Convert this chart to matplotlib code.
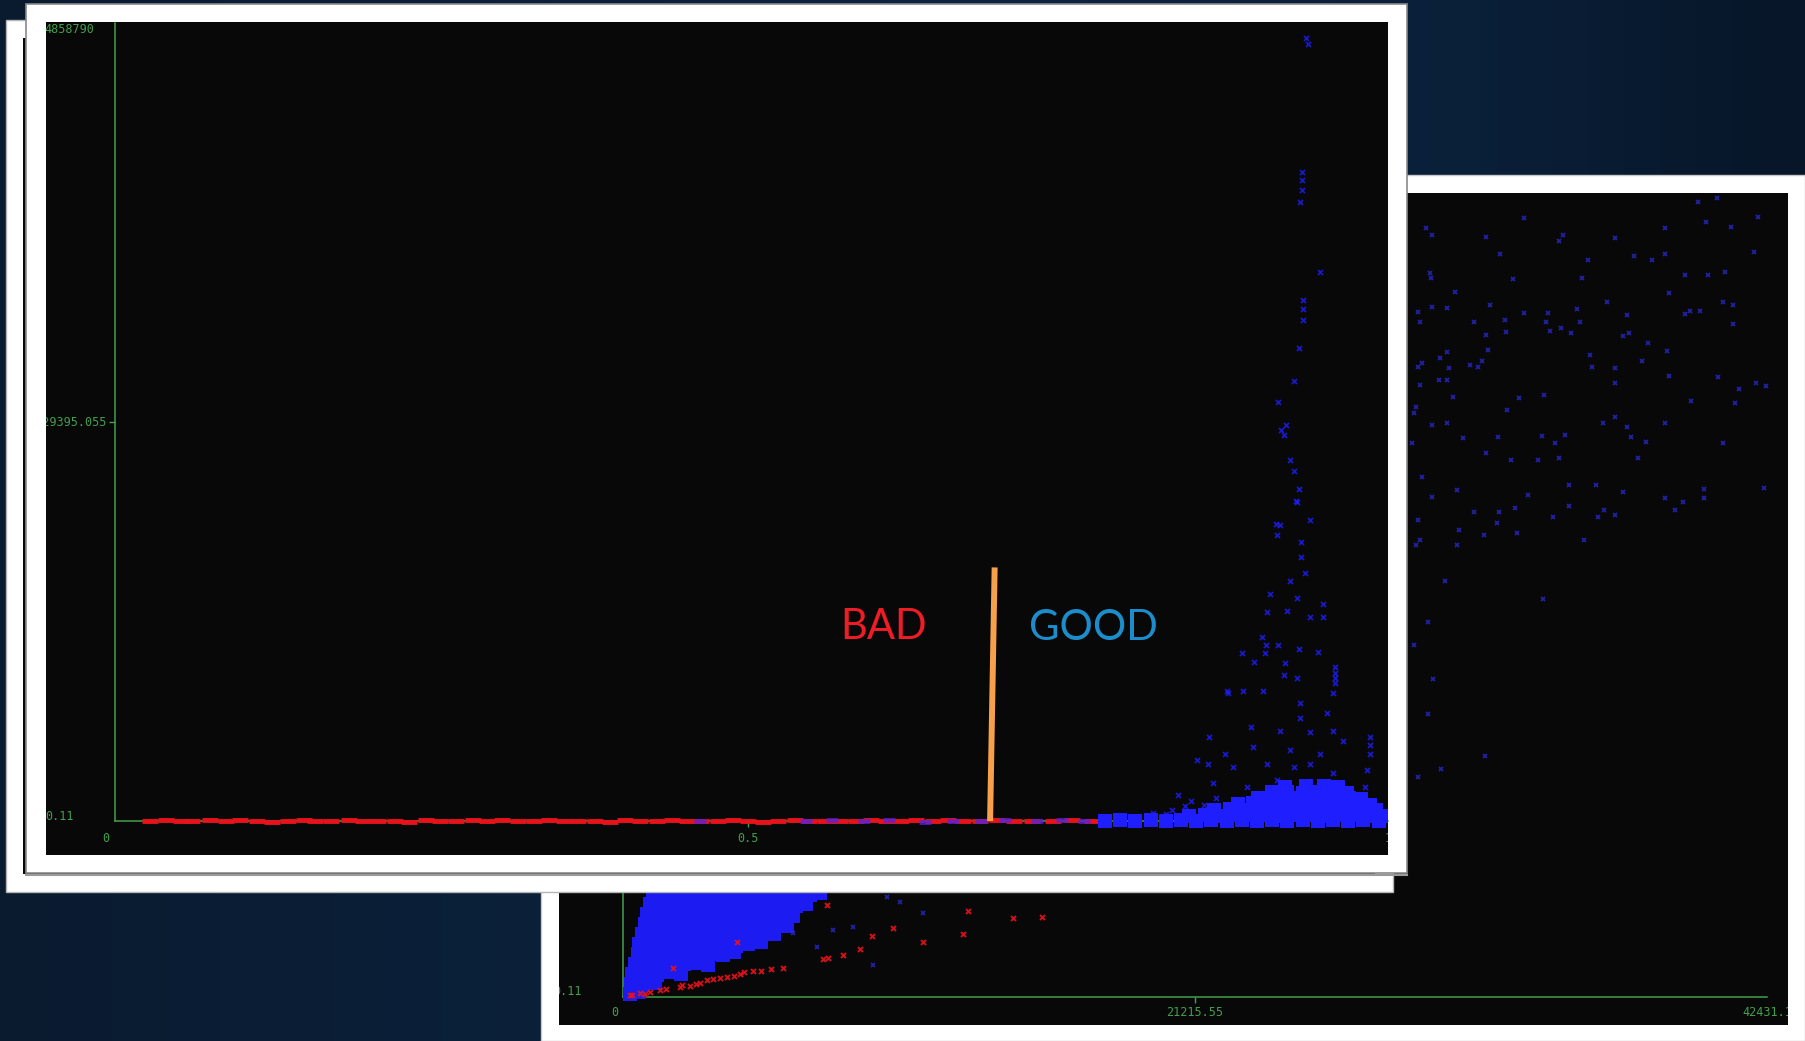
import numpy as np
import matplotlib
matplotlib.use("Agg")
import matplotlib.pyplot as plt
from matplotlib.patches import Rectangle

W, H = 1805, 1041
GREEN = "#41a04c"
PANEL = "#080808"
RED = "#e8121a"
BLUE = "#1e1eff"
DIM_BLUE = "#2a2ad8"

# ---------------- front screenshot: score (0..1) vs target ----------------
front_xticks = [0.0, 0.5, 1.0]
front_xlabels = ["0", "0.5", "1"]
front_ymin, front_ymid, front_ymax = 0.11, 2429395.055, 4858790.0
front_ylabels = ["0.11", "2429395.055", "4858790"]

# red strip along the baseline: (score, target in thousands)
red_base = [
    (0.028, 0), (0.040, 5), (0.052, -3), (0.061, 2), (0.075, 6), (0.088, -2), (0.099, 4), (0.112, 0),
    (0.124, -4), (0.137, 3), (0.149, 6), (0.158, -1), (0.171, 2), (0.185, 4), (0.196, -3), (0.208, 0),
    (0.221, 3), (0.232, -4), (0.246, 5), (0.257, 1), (0.269, -2), (0.283, 4), (0.294, 0), (0.306, 6),
    (0.318, -3), (0.331, 2), (0.343, 5), (0.355, -1), (0.366, 3), (0.379, 0), (0.391, -4), (0.403, 4),
    (0.415, 2), (0.428, -2), (0.440, 6), (0.452, 0), (0.463, 3), (0.476, -3), (0.488, 5), (0.500, 1),
    (0.512, -4), (0.524, 2), (0.537, 5), (0.548, -1), (0.561, 3), (0.573, 0), (0.585, -3), (0.597, 4),
    (0.609, 2), (0.621, -2), (0.633, 6), (0.646, 1), (0.658, 4), (0.670, -3), (0.683, 2), (0.697, 5),
    (0.710, -2), (0.724, 3), (0.741, 0), (0.756, 4), (0.772, -2),
]
# blue points mixed into the red strip (thousands)
blue_mix = [(0.462, 2), (0.546, -3), (0.566, 5), (0.592, 0), (0.611, 6), (0.640, -4),
            (0.662, 3), (0.684, -2), (0.703, 5), (0.728, 0), (0.748, 4), (0.765, -3)]
# blue baseline and dense mass near score ~0.9-1.0 (target in millions)
blue_mass = [
    (0.782, 0.0), (0.794, 0.005), (0.806, 0.0), (0.818, 0.008), (0.830, 0.0), (0.842, 0.006),
    (0.854, 0.0), (0.866, 0.004), (0.878, 0.0), (0.890, 0.006), (0.902, 0.0), (0.914, 0.005),
    (0.926, 0.0), (0.938, 0.004), (0.950, 0.0), (0.962, 0.006), (0.974, 0.0), (0.986, 0.005), (0.998, 0.0),
    (0.848, 0.033), (0.861, 0.037), (0.872, 0.032), (0.885, 0.036), (0.896, 0.034), (0.909, 0.038),
    (0.920, 0.033), (0.933, 0.036), (0.944, 0.035), (0.957, 0.032), (0.968, 0.037), (0.980, 0.034),
    (0.992, 0.033), (1.000, 0.030),
    (0.868, 0.068), (0.881, 0.072), (0.892, 0.069), (0.905, 0.071), (0.916, 0.07), (0.929, 0.073),
    (0.940, 0.068), (0.953, 0.071), (0.964, 0.07), (0.977, 0.072), (0.988, 0.068), (0.996, 0.066),
    (0.887, 0.104), (0.899, 0.107), (0.911, 0.103), (0.924, 0.106), (0.935, 0.105), (0.947, 0.108),
    (0.959, 0.104), (0.971, 0.106), (0.983, 0.103), (0.991, 0.1),
    (0.903, 0.14), (0.916, 0.142), (0.927, 0.138), (0.939, 0.141), (0.951, 0.14), (0.963, 0.143),
    (0.975, 0.139), (0.984, 0.136),
    (0.914, 0.175), (0.926, 0.178), (0.938, 0.173), (0.950, 0.176), (0.962, 0.18), (0.973, 0.172),
    (0.924, 0.21), (0.941, 0.215), (0.955, 0.212), (0.966, 0.208),
]
# scattered blue points (target in millions)
blue_sparse = [
    (0.941, 4.77), (0.942, 4.73),
    (0.9377, 3.95), (0.9377, 3.90), (0.9377, 3.84), (0.936, 3.77),
    (0.952, 3.34), (0.9387, 3.17), (0.9387, 3.12), (0.9387, 3.05),
    (0.931, 2.68), (0.935, 2.88),
    (0.919, 2.55), (0.925, 2.41), (0.923, 2.35), (0.921, 2.38),
    (0.928, 2.20), (0.931, 2.13), (0.935, 2.02), (0.933, 1.95), (0.917, 1.81), (0.937, 1.70),
    (0.934, 1.94), (0.920, 1.80), (0.918, 1.74), (0.944, 1.83), (0.937, 1.61), (0.928, 1.46),
    (0.940, 1.51), (0.912, 1.38), (0.934, 1.36), (0.954, 1.32), (0.910, 1.27), (0.926, 1.28),
    (0.944, 1.24), (0.954, 1.24), (0.906, 1.12), (0.919, 1.07), (0.935, 1.05), (0.950, 1.03),
    (0.890, 1.02), (0.908, 1.02), (0.924, 0.96), (0.964, 0.94), (0.964, 0.90), (0.964, 0.87),
    (0.964, 0.84), (0.962, 0.78), (0.923, 0.89), (0.934, 0.87), (0.879, 0.78), (0.907, 0.79),
    (0.936, 0.72), (0.957, 0.66), (0.936, 0.63), (0.897, 0.57), (0.920, 0.55), (0.944, 0.54),
    (0.962, 0.55), (0.970, 0.49), (0.899, 0.45), (0.928, 0.43), (0.952, 0.41), (0.877, 0.41),
    (0.991, 0.51), (0.991, 0.46), (0.991, 0.41), (0.989, 0.31), (0.987, 0.21), (0.863, 0.35),
    (0.883, 0.33), (0.910, 0.35), (0.931, 0.33), (0.944, 0.35), (0.962, 0.29), (0.867, 0.23),
    (0.894, 0.21), (0.918, 0.25), (0.968, 0.21), (0.928, 0.21), (0.949, 0.19),
    (0.909, 1.07), (0.900, 0.97), (0.891, 0.79), (0.878, 0.79), (0.855, 0.37), (0.864, 0.51),
    (0.820, 0.05), (0.835, 0.07), (0.845, 0.09), (0.850, 0.12), (0.830, 0.04), (0.840, 0.16),
    (0.870, 0.14), (0.860, 0.10),
]
split_x = [0.6948, 0.6912]          # orange BAD / GOOD divider
split_y = [1.544e6, 0.0]
bad_pos = (0.607, 1.18e6)
good_pos = (0.773, 1.175e6)

# ---------------- back screenshot: feature (0..42431) vs target ----------------
back_xmax = 42431.1
back_xmid = 21215.55
back_xlabels = ["0", "21215.55", "42431.1"]
# dense blue wedge near the origin (x in thousands, target in millions)
back_blob = [
    (0.25, 0.02), (0.6, 0.03),
    (0.3, 0.08), (0.75, 0.075), (1.2, 0.085),
    (0.35, 0.14), (0.8, 0.145), (1.25, 0.135), (1.7, 0.15), (2.15, 0.14),
    (0.45, 0.20), (0.9, 0.205), (1.35, 0.195), (1.8, 0.21), (2.25, 0.2), (2.7, 0.205), (3.15, 0.195),
    (0.55, 0.26), (1.0, 0.255), (1.45, 0.265), (1.9, 0.26), (2.35, 0.25), (2.8, 0.265), (3.25, 0.26),
    (3.7, 0.255), (4.1, 0.27),
    (0.6, 0.32), (1.05, 0.325), (1.5, 0.315), (1.95, 0.32), (2.4, 0.33), (2.85, 0.315), (3.3, 0.32),
    (3.75, 0.325), (4.2, 0.31), (4.65, 0.32), (5.1, 0.33),
    (0.7, 0.38), (1.15, 0.385), (1.6, 0.375), (2.05, 0.38), (2.5, 0.39), (2.95, 0.375), (3.4, 0.38),
    (3.85, 0.385), (4.3, 0.375), (4.75, 0.38), (5.2, 0.39), (5.6, 0.38),
    (0.8, 0.44), (1.25, 0.445), (1.7, 0.435), (2.15, 0.44), (2.6, 0.45), (3.05, 0.435), (3.5, 0.44),
    (3.95, 0.445), (4.4, 0.435), (4.85, 0.44), (5.3, 0.45), (5.75, 0.44), (6.1, 0.43),
    (0.9, 0.50), (1.35, 0.505), (1.8, 0.495), (2.25, 0.5), (2.7, 0.51), (3.15, 0.495), (3.6, 0.5),
    (4.05, 0.505), (4.5, 0.495), (4.95, 0.5), (5.4, 0.51), (5.85, 0.5), (6.3, 0.49),
    (1.0, 0.56), (1.45, 0.565), (1.9, 0.555), (2.35, 0.56), (2.8, 0.57), (3.25, 0.555), (3.7, 0.56),
    (4.15, 0.565), (4.6, 0.555), (5.05, 0.56), (5.5, 0.57), (5.95, 0.56), (6.4, 0.55), (6.8, 0.56),
    (1.1, 0.62), (1.55, 0.625), (2.0, 0.615), (2.45, 0.62), (2.9, 0.63), (3.35, 0.615), (3.8, 0.62),
    (4.25, 0.625), (4.7, 0.615), (5.15, 0.62), (5.6, 0.63), (6.05, 0.62), (6.5, 0.61), (6.95, 0.62),
    (7.3, 0.63),
]
back_blue = [
    (7.79, 0.405), (8.53, 0.424), (9.27, 0.194), (10.27, 0.575), (11.13, 0.508), (7.19, 0.303),
    (9.79, 0.605), (6.3, 0.387),
    (29.78, 4.651), (30.02, 4.611), (32.02, 4.597), (33.40, 4.712), (34.86, 4.611), (34.71, 4.576),
    (36.79, 4.590), (32.51, 4.496), (33.02, 4.342), (35.79, 4.459), (37.48, 4.484), (38.17, 4.459),
    (38.63, 4.496), (41.94, 4.510), (41.10, 4.661), (42.10, 4.722), (40.17, 4.691), (39.86, 4.812),
    (40.56, 4.833), (38.63, 4.651), (29.94, 4.379), (29.98, 4.348), (30.86, 4.268), (35.56, 4.348),
    (39.40, 4.369), (40.25, 4.369), (40.87, 4.389), (38.79, 4.262), (36.48, 4.207), (29.48, 4.147),
    (29.55, 4.086), (30.02, 4.177), (30.55, 4.167), (31.55, 4.086), (32.17, 4.187), (32.71, 4.096),
    (32.75, 4.026), (33.40, 4.141), (34.32, 4.141), (34.25, 4.086), (34.40, 4.032), (34.79, 4.046),
    (35.17, 4.016), (35.40, 4.161), (35.48, 4.086), (37.09, 4.000), (37.33, 4.020), (37.25, 4.127),
    (38.02, 3.959), (39.40, 4.133), (39.56, 4.153), (39.94, 4.153), (40.79, 4.207), (41.17, 4.187),
    (41.17, 4.072), (29.48, 3.814), (29.63, 3.834), (30.32, 3.864), (30.55, 3.905), (30.63, 3.804),
    (31.40, 3.824), (31.71, 3.814), (31.86, 3.850), (32.09, 3.915), (32.02, 4.006), (35.86, 3.885),
    (35.94, 3.814), (36.79, 3.804), (36.79, 3.713), (37.79, 3.850), (38.71, 3.911), (38.79, 3.758),
    (40.63, 3.749), (41.40, 3.677), (42.02, 3.717), (42.40, 3.697), (29.55, 3.703), (30.25, 3.733),
    (30.55, 3.733), (30.78, 3.632), (33.25, 3.622), (34.17, 3.643), (34.94, 3.401), (34.56, 3.350),
    (34.09, 3.395), (32.79, 3.552), (32.45, 3.391), (32.02, 3.290), (31.17, 3.380), (30.55, 3.471),
    (30.02, 3.461), (29.25, 3.350), (29.40, 3.572), (29.32, 3.532), (36.33, 3.471), (36.79, 3.511),
    (37.25, 3.451), (37.40, 3.386), (37.94, 3.360), (37.63, 3.259), (38.63, 3.475), (39.63, 3.608),
    (41.25, 3.596), (40.79, 3.350), (42.33, 3.078), (29.63, 3.148), (30.02, 3.027), (30.94, 3.068),
    (31.55, 2.937), (31.94, 2.795), (32.40, 2.866), (32.48, 2.937), (33.09, 2.957), (33.17, 2.806),
    (33.55, 3.037), (34.48, 2.906), (35.09, 3.098), (35.09, 2.971), (36.09, 3.098), (36.40, 2.947),
    (36.17, 2.906), (36.79, 2.916), (37.09, 3.058), (38.63, 3.017), (39.33, 2.997), (39.02, 2.947),
    (40.10, 3.017), (35.63, 2.765), (31.02, 2.826), (30.94, 2.735), (29.55, 2.765), (29.48, 2.886),
    (29.40, 2.735), (32.94, 3.249), (33.94, 3.249), (34.71, 3.259),
    (31.97, 1.456), (30.35, 1.380), (29.50, 1.331), (29.84, 1.714), (30.05, 1.923), (29.33, 2.132),
    (30.48, 2.515), (29.84, 2.271), (34.11, 2.411), (40.09, 3.072),
]
back_red = [
    (7.57, 0.557), (12.80, 0.520), (14.47, 0.478), (10.01, 0.417), (9.24, 0.369), (12.61, 0.381),
    (11.13, 0.333), (8.79, 0.290), (8.16, 0.254), (7.60, 0.236), (7.42, 0.230), (5.93, 0.175),
    (4.23, 0.333), (4.82, 0.157), (4.34, 0.139), (3.86, 0.121), (3.34, 0.109), (2.86, 0.085),
    (2.49, 0.067), (2.11, 0.061), (1.85, 0.175), (1.37, 0.042), (0.63, 0.024), (0.26, 0.012),
    (15.54, 0.484), (0.35, 0.01), (0.8, 0.02), (1.0, 0.03), (1.6, 0.05), (2.2, 0.07), (2.7, 0.08),
    (3.1, 0.10), (3.6, 0.115), (4.1, 0.13), (4.5, 0.15), (5.1, 0.16), (5.5, 0.17),
]


def put_axes(x0, y0, x1, y1, z):
    # pixel box (top-left origin) -> figure fraction
    return fig.add_axes([x0 / W, 1 - y1 / H, (x1 - x0) / W, (y1 - y0) / H], zorder=z)


def style_axes(ax, xmax_spine, ymax, xticks, yticks):
    ax.set_facecolor(PANEL)
    for side in ("top", "right"):
        ax.spines[side].set_visible(False)
    ax.spines["left"].set_position(("data", 0.0))
    ax.spines["bottom"].set_position(("data", front_ymin))
    ax.spines["left"].set_bounds(front_ymin, ymax)
    ax.spines["bottom"].set_bounds(0.0, xmax_spine)
    for side in ("left", "bottom"):
        ax.spines[side].set_color(GREEN)
        ax.spines[side].set_linewidth(1.1)
    ax.set_xticks(xticks)
    ax.set_yticks(yticks)
    ax.tick_params(colors=GREEN, length=4, width=1, labelbottom=False, labelleft=False)


def unzip(pts, scale):
    return [p[0] for p in pts], [p[1] * scale for p in pts]


fig = plt.figure(figsize=(W / 100, H / 100), dpi=100)

# slide background
ax_bg = fig.add_axes([0, 0, 1, 1], zorder=0)
pos = np.linspace(0, 1, 400)
stops = [0.0, 0.55, 0.82, 1.0]
rgb = np.array([[10, 27, 48], [12, 36, 66], [10, 31, 56], [7, 22, 40]]) / 255
row = np.stack([np.interp(pos, stops, rgb[:, c]) for c in range(3)], axis=-1)
ax_bg.imshow(np.repeat(row[None, :, :], 10, axis=0), extent=[0, W, H, 0], aspect="auto")
ax_bg.set_xlim(0, W)
ax_bg.set_ylim(H, 0)
ax_bg.axis("off")
ax_bg.add_patch(Rectangle((541, 175), 1264, 866, fc="white", ec="#c9c9c9", lw=1))

# back screenshot plot
axr = put_axes(559, 193, 1788, 1025, 1)
axr.set_xlim(-2374, 43210)
axr.set_ylim(-169400, 4864800)
style_axes(axr, back_xmax, front_ymax, [back_xmid], [])
bx, by = unzip(back_blob, 1e6)
axr.plot([v * 1e3 for v in bx], by, ls="none", marker="s", ms=9.5, mew=0, color="#1c1cf2",
         zorder=3)
bx, by = unzip(back_blue, 1e6)
axr.plot([v * 1e3 for v in bx], by, ls="none", marker="x", ms=3.4, mew=1.3, color=DIM_BLUE,
         alpha=0.75, zorder=3)
bx, by = unzip(back_red, 1e6)
axr.plot([v * 1e3 for v in bx], by, ls="none", marker="x", ms=3.6, mew=1.4, color=RED,
         alpha=0.9, zorder=4)
for xv, lab in zip([-300, back_xmid, back_xmax], back_xlabels):
    axr.text(xv, -90800, lab, color=GREEN, fontsize=8.5, family="DejaVu Sans Mono",
             ha="center", va="center", clip_on=True)
axr.text(-2596, 30300, front_ylabels[0], color=GREEN, fontsize=8.5,
         family="DejaVu Sans Mono", ha="left", va="center", clip_on=True)

# stacked screenshot frames
ax_mid = fig.add_axes([0, 0, 1, 1], zorder=2)
ax_mid.patch.set_alpha(0)
ax_mid.set_xlim(0, W)
ax_mid.set_ylim(H, 0)
ax_mid.axis("off")
ax_mid.add_patch(Rectangle((6, 20), 1387, 872, fc="white", ec="#b5b5b5", lw=1))
ax_mid.add_patch(Rectangle((23, 38), 1352, 836, fc=PANEL, ec="none"))
ax_mid.add_patch(Rectangle((26, 4), 1381, 869, fc="white", ec="#8a8a8a", lw=1.2))
ax_mid.plot([26, 1407], [875, 875], color="#9a9a9a", lw=1.5)

# front screenshot plot
ax = put_axes(46, 22, 1388, 855, 3)
ax.set_xlim(-0.0545, 1.0055)
ax.set_ylim(-207000, 4864900)
style_axes(ax, 1.0055, front_ymax, [0.5], [front_ymid])

rx, ry = unzip(red_base, 1e3)
ax.plot(rx, ry, ls="none", marker="_", ms=12, mew=3.5, color=RED, zorder=3)
mx, my = unzip(blue_mix, 1e3)
ax.plot(mx, my, ls="none", marker="_", ms=8, mew=3.5, color="#5a22d8", alpha=0.8, zorder=3)
mx, my = unzip(blue_mass, 1e6)
ax.plot(mx, my, ls="none", marker="s", ms=10.5, mew=0, color=BLUE, zorder=3)
sx, sy = unzip(blue_sparse, 1e6)
ax.plot(sx, sy, ls="none", marker="x", ms=3.6, mew=1.3, color=BLUE, alpha=0.8, zorder=3)

for xv, lab in zip([-0.0071, 0.5, 1.006], front_xlabels):
    ax.text(xv, -103500, lab, color=GREEN, fontsize=8.5, family="DejaVu Sans Mono",
            ha="center", va="center", clip_on=True)
ax.text(-0.0553, 30400, front_ylabels[0], color=GREEN, fontsize=8.5,
        family="DejaVu Sans Mono", ha="left", va="center", clip_on=True)
ax.text(-0.0064, front_ymid, front_ylabels[1], color=GREEN, fontsize=8.5,
        family="DejaVu Sans Mono", ha="right", va="center", clip_on=True)
ax.text(-0.0561, 4822000, front_ylabels[2], color=GREEN, fontsize=8.5,
        family="DejaVu Sans Mono", ha="left", va="center", clip_on=True)

ax.plot(split_x, split_y, color="#f6a049", lw=4.3, solid_capstyle="butt", zorder=5)
ax.text(*bad_pos, "BAD", color="#ee1c25", fontsize=30, family=["Lato", "DejaVu Sans"],
        ha="center", va="center", zorder=6)
ax.text(*good_pos, "GOOD", color="#1c8dcc", fontsize=30, family=["Lato", "DejaVu Sans"],
        ha="center", va="center", zorder=6)

fig.savefig("out.png", dpi=100)
